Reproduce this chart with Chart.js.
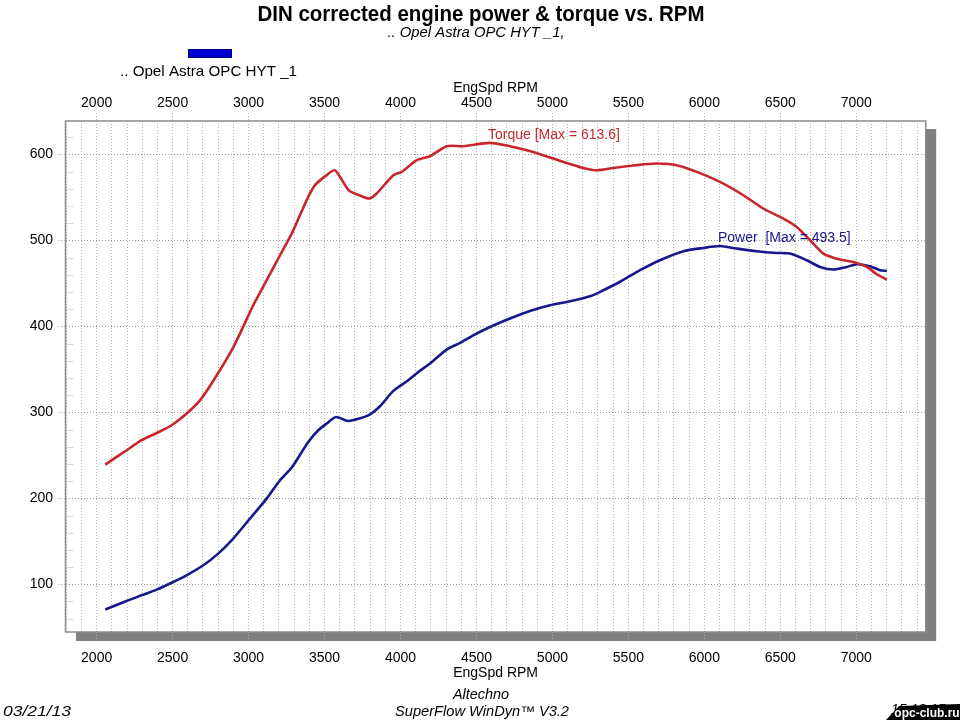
<!DOCTYPE html>
<html><head><meta charset="utf-8">
<script src="https://cdn.jsdelivr.net/npm/chart.js@4/dist/chart.umd.min.js"></script>
<style>html,body{margin:0;padding:0;background:#fff;}canvas{display:block}</style>
</head><body>
<canvas id="c" width="960" height="720"></canvas>
<script>
// ---- data ----
const rpmTorque = [2057,2197,2296,2395,2494,2592,2680,2772,2900,3031,3108,3207,3284,3338,3393,3437,3514,3569,3656,3712,3795,3843,3953,4008,4107,4194,4304,4413,4589,4721,4874,5072,5203,5292,5401,5545,5687,5818,5950,6103,6257,6388,6520,6608,6696,6783,6893,6981,7069,7135,7201];
const torque    = [239.3,255.9,267.6,276,285,298.6,314,338,376,424.6,450,482.8,508,529.4,550.7,564.3,576,581.7,559,553.8,548.8,554.6,575.9,579.8,593.4,598,609.7,609.7,613.6,609.7,603,591.4,584.4,581.7,584.4,587.5,589.5,587.6,579.8,568.1,552.6,537.2,525.5,515.8,500.3,484.8,477.8,475,469.2,460.7,454.5];
const rpmPower  = [2057,2197,2296,2395,2504,2592,2702,2800,2899,3009,3119,3207,3284,3393,3459,3514,3575,3656,3788,3865,3953,4051,4117,4194,4304,4392,4479,4589,4721,4852,4984,5116,5248,5335,5445,5577,5708,5862,5993,6103,6213,6345,6476,6564,6674,6762,6849,6937,7003,7090,7156,7201];
const power     = [70.6,80.6,87.2,93.8,102.7,110.5,122.1,135.7,153.2,176.4,199.7,221,235.8,265.6,279.2,287,294.7,290,296.6,307.1,325,337.4,347,356.8,373.1,380.8,389.7,399.4,409.2,418,424.6,429.3,435.1,442.1,452,465.4,477,487.5,491.3,493.5,490.6,487.5,485.5,484.8,477,469.2,466.2,469.2,472.4,470,465.4,464.5];
const xLabelStep = 500;     // labelled rpm ticks
const yLabelStep = 100;     // labelled value ticks
const xRange = [1795, 7457];
const yRange = [44.5, 639];
const torqueLabel = 'Torque [Max = 613.6]';
const powerLabel  = 'Power  [Max = 493.5]';
const axisTitle = 'EngSpd RPM';
const titleText = 'DIN corrected engine power & torque vs. RPM';
const subtitleText = '.. Opel Astra OPC HYT _1,';
const legendText = '.. Opel Astra OPC HYT _1';

const FONT = "'Liberation Sans', Arial, sans-serif";
const RED = '#c8262b', BLUE = '#18188e';

function fitText(ctx, text, x, y, align, font, color, targetW) {
  ctx.save();
  ctx.font = font; ctx.fillStyle = color; ctx.textBaseline = 'alphabetic';
  const w = ctx.measureText(text).width;
  const s = targetW ? targetW / w : 1;
  ctx.translate(x, y); ctx.scale(s, 1);
  ctx.textAlign = align; ctx.fillText(text, 0, 0);
  ctx.restore();
}

const framePlugin = {
  id: 'frame',
  beforeDraw(chart) {
    const {ctx, chartArea: a} = chart;
    ctx.save();
    ctx.fillStyle = '#fff'; ctx.fillRect(0, 0, chart.width, chart.height);
    ctx.fillStyle = '#7f7f7f';
    ctx.fillRect(a.left + 10.5, a.top + 8, a.right - a.left, a.bottom - a.top + 1);
    ctx.fillStyle = '#fff';
    ctx.fillRect(a.left, a.top, a.right - a.left, a.bottom - a.top);
    ctx.restore();
  },
  beforeDatasetsDraw(chart) {
    const {ctx, chartArea: a, scales} = chart;
    ctx.save();
    const y = scales.y;
    ctx.strokeStyle = '#9a9a9a'; ctx.lineWidth = 1; ctx.setLineDash([1, 2]);
    y.ticks.forEach(t => {
      if (Math.round(t.value) % yLabelStep !== 0) {
        const py = Math.round(y.getPixelForValue(t.value)) + 0.5;
        ctx.beginPath(); ctx.moveTo(a.left, py); ctx.lineTo(a.left + 9, py); ctx.stroke();
      }
    });
    ctx.setLineDash([]);
    ctx.strokeStyle = '#8a8a8a'; ctx.lineWidth = 1.5;
    ctx.strokeRect(a.left, a.top, a.right - a.left, a.bottom - a.top);
    ctx.restore();
  },
  afterDatasetsDraw(chart) {
    const {ctx, scales} = chart;
    const marks = [[rpmTorque, torque, torqueLabel, RED], [rpmPower, power, powerLabel, BLUE]];
    ctx.save();
    ctx.font = '14px ' + FONT; ctx.textAlign = 'left'; ctx.textBaseline = 'middle';
    marks.forEach(([xs, ys, txt, col]) => {
      let k = 0; ys.forEach((v, i) => { if (v > ys[k]) k = i; });
      const px = scales.x.getPixelForValue(xs[k]);
      const py = scales.y.getPixelForValue(ys[k]);
      ctx.fillStyle = col; ctx.fillText(txt, px - 2, py - 8);
    });
    ctx.restore();
  },
  afterDraw(chart) {
    const ctx = chart.ctx;
    fitText(ctx, titleText, 481, 21, 'center', 'bold 22px ' + FONT, '#000', 447);
    fitText(ctx, subtitleText, 476, 37, 'center', 'italic 14px ' + FONT, '#000', 177);
    ctx.save();
    ctx.fillStyle = '#0000d6'; ctx.fillRect(188, 49, 44, 9);
    ctx.strokeStyle = '#00007a'; ctx.lineWidth = 1; ctx.strokeRect(188.5, 49.5, 43, 8);
    ctx.restore();
    fitText(ctx, legendText, 120, 76, 'left', '15px ' + FONT, '#000', 177);
    fitText(ctx, 'Altechno', 481, 699, 'center', 'italic 14px ' + FONT, '#000', 56);
    fitText(ctx, 'SuperFlow WinDyn\u2122 V3.2', 482, 716, 'center', 'italic 14px ' + FONT, '#000', 174);
    fitText(ctx, '03/21/13', 3, 716, 'left', 'italic 14px ' + FONT, '#000', 68);
    fitText(ctx, '15:13:15', 891, 714, 'left', 'italic 14px ' + FONT, '#000', 0);
    ctx.save();
    ctx.fillStyle = '#000';
    ctx.beginPath(); ctx.moveTo(886, 720); ctx.lineTo(899, 706); ctx.lineTo(960, 704); ctx.lineTo(960, 720); ctx.closePath(); ctx.fill();
    ctx.restore();
    fitText(ctx, 'opc-club.ru', 927, 717, 'center', 'bold 12px ' + FONT, '#fff', 0);
  }
};

const isLabelX = v => Math.round(v) % xLabelStep === 0;
const isLabelY = v => Math.round(v) % yLabelStep === 0;
const clear = 'rgba(0,0,0,0)';

new Chart(document.getElementById('c'), {
  type: 'line',
  data: {
    datasets: [
      { label: 'Torque', data: rpmTorque.map((r, i) => ({x: r, y: torque[i]})),
        borderColor: RED, borderWidth: 2.6, pointRadius: 0, tension: 0.25, fill: false, xAxisID: 'x', yAxisID: 'y' },
      { label: 'Power', data: rpmPower.map((r, i) => ({x: r, y: power[i]})),
        borderColor: BLUE, borderWidth: 2.6, pointRadius: 0, tension: 0.25, fill: false, xAxisID: 'x', yAxisID: 'y' }
    ]
  },
  options: {
    responsive: false, animation: false, devicePixelRatio: 1,
    layout: { padding: { left: 0, right: 34.3, top: 0, bottom: 28 } },
    plugins: { legend: { display: false }, title: { display: false }, tooltip: { enabled: false } },
    scales: {
      x: {
        type: 'linear', position: 'bottom', min: xRange[0], max: xRange[1],
        afterFit: s => { s.height = 60; },
        ticks: { stepSize: 100, autoSkip: false, includeBounds: false, maxRotation: 0, padding: 9.6,
                 color: '#000', font: { size: 14, family: FONT },
                 callback: v => isLabelX(v) ? String(v) : '' },
        grid: { color: '#b4b4b4', lineWidth: 1, tickLength: 8,
                tickColor: c => isLabelX(c.tick.value) ? '#b4b4b4' : clear, tickBorderDash: [1, 2] },
        border: { display: false, dash: [1, 2] },
        title: { display: true, text: axisTitle, color: '#000', font: { size: 14, family: FONT }, padding: { top: 0, bottom: 10.6 } }
      },
      x2: {
        type: 'linear', position: 'top', min: xRange[0], max: xRange[1],
        afterFit: s => { s.height = 121; },
        ticks: { stepSize: 100, autoSkip: false, includeBounds: false, maxRotation: 0, padding: 1,
                 color: '#000', font: { size: 14, family: FONT },
                 callback: v => isLabelX(v) ? String(v) : '' },
        grid: { drawOnChartArea: false, tickLength: 8,
                tickColor: c => isLabelX(c.tick.value) ? '#b4b4b4' : clear, tickBorderDash: [1, 2] },
        border: { display: false },
        title: { display: true, text: axisTitle, color: '#000', font: { size: 14, family: FONT }, padding: { top: 79.6, bottom: 0 } }
      },
      y: {
        type: 'linear', position: 'left', min: yRange[0], max: yRange[1],
        afterFit: s => { s.width = 65.5; },
        ticks: { stepSize: 20, autoSkip: false, includeBounds: false, padding: 5.5,
                 color: '#000', font: { size: 14, family: FONT },
                 callback: v => isLabelY(v) ? String(v) : '' },
        grid: { color: c => isLabelY(c.tick.value) ? '#9c9c9c' : clear, tickLength: 7,
                tickColor: c => isLabelY(c.tick.value) ? '#9c9c9c' : clear, tickBorderDash: [1, 2] },
        border: { display: false, dash: [1, 2] }
      }
    }
  },
  plugins: [framePlugin]
});
</script>
</body></html>
